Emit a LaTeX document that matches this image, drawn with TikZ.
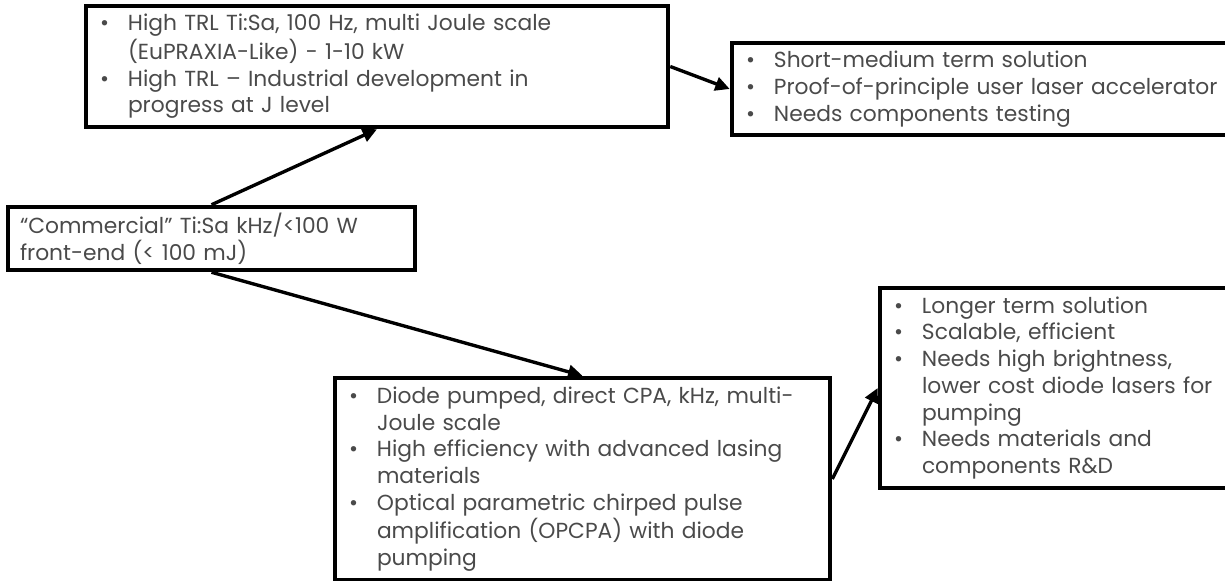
\documentclass[tikz,border=0pt]{standalone}
\usepackage{fontspec}
\setmainfont{Poppins}
\usetikzlibrary{arrows.meta}
\definecolor{txtgray}{HTML}{4A4A4A}
% bullet list: one row per printed line
\newenvironment{blist}{\begin{tabular}{@{}p{0.7cm}@{}l@{}}}{\end{tabular}}
\newcommand{\bul}{\textbullet &}

\begin{document}
\begin{tikzpicture}[
        box/.style={draw, line width=3.2pt, minimum width=#1, align=left, text=txtgray,
            font=\fontsize{15.5}{19}\selectfont, inner xsep=0.35cm, text width=#1-0.7cm},
        arr/.style={line width=2.4pt, -{Triangle[length=3.6mm,width=3.4mm]}}]
    \useasboundingbox (0,0) rectangle (30.625,-14.525);
    \clip (0,0) rectangle (30.625,-14.525);
    % front end
    \node[box=10.175cm, minimum height=1.575cm, inner xsep=0.3cm, text width=9.575cm] (fe) at (5.2875,-5.9625)
        {“Commercial” Ti:Sa kHz/<100 W\\ front-end (< 100 mJ)};
    % Ti:Sa upgrade path
    \node[box=14.55cm, minimum height=3.025cm] (tisa) at (9.425,-1.6625)
        {\begin{blist}
         \bul High TRL Ti:Sa, 100 Hz, multi Joule scale\\
              & (EuPRAXIA-Like) - 1-10 kW\\
         \bul High TRL – Industrial development in\\
              & progress at J level
         \end{blist}};
    \node[box=12.825cm, minimum height=2.3cm] (short) at (24.7125,-2.225)
        {\begin{blist}
         \bul Short-medium term solution\\
         \bul Proof-of-principle user laser accelerator\\
         \bul Needs components testing
         \end{blist}};
    % diode pumped path
    \node[box=12.375cm, minimum height=5.05cm] (diode) at (14.5625,-11.975)
        {\begin{blist}
         \bul Diode pumped, direct CPA, kHz, multi-\\
              & Joule scale\\
         \bul High efficiency with advanced lasing\\
              & materials\\
         \bul Optical parametric chirped pulse\\
              & amplification (OPCPA) with diode\\
              & pumping
         \end{blist}};
    \node[box=9.125cm, minimum height=5.0cm] (long) at (26.5625,-9.7)
        {\begin{blist}
         \bul Longer term solution\\
         \bul Scalable, efficient\\
         \bul Needs high brightness,\\
              & lower cost diode lasers for\\
              & pumping\\
         \bul Needs materials and\\
              & components R\&D
         \end{blist}};
    % connectors
    \draw[arr] (fe.north) -- (tisa.south);
    \draw[arr] (tisa.east) -- (short.west);
    \draw[arr] (fe.south) -- (diode.north);
    \draw[arr] (diode.east) -- (long.west);
\end{tikzpicture}
\end{document}
